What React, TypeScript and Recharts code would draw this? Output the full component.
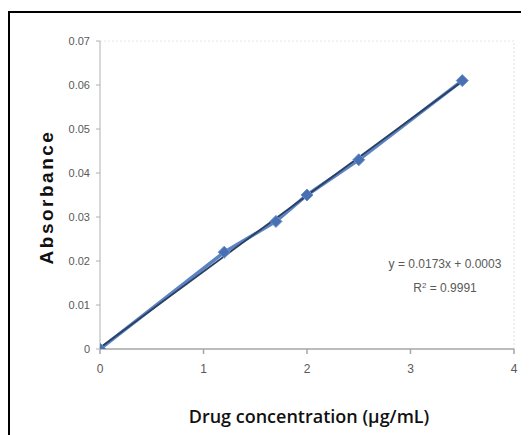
import React from "react";
import { LineChart, Line, XAxis, YAxis, ReferenceLine } from "recharts";

const concentrations = [0, 1.2, 1.7, 2, 2.5, 3.5];
const absorbances = [0, 0.022, 0.029, 0.035, 0.043, 0.061];
const xTicks = [0, 1, 2, 3, 4];
const yTicks = [0, 0.01, 0.02, 0.03, 0.04, 0.05, 0.06, 0.07];
const trendX = [0, 3.5];
const trendY = [0.0003, 0.06085];
const equationText = "y = 0.0173x + 0.0003";
const r2Value = "0.9991";

const data = concentrations.map((x, i) => ({ x, y: absorbances[i] }));

const NARROW = "'Liberation Sans Narrow', 'Liberation Sans', Arial, sans-serif";

const Diamond = (props: any) => {
  const { cx, cy } = props;
  if (cx == null || cy == null) return null;
  const r = 6;
  return (
    <path
      d={`M${cx},${cy - r} L${cx + r},${cy} L${cx},${cy + r} L${cx - r},${cy} Z`}
      fill="#4a70b4"
      stroke="#6a8fcc"
      strokeWidth={1}
    />
  );
};

const fmtY = (v: number) => (v === 0 ? "0" : v.toFixed(2));

export default function App() {
  return (
    <div style={{ position: "relative", width: 521, height: 427 }}>
      <div
        style={{
          position: "absolute",
          left: 0,
          top: 3,
          width: 521,
          height: 424,
          borderTop: "2px solid #000",
          borderLeft: "2px solid #000",
          boxSizing: "border-box",
        }}
      />
      <LineChart
        width={521}
        height={427}
        data={data}
        margin={{ top: 33, right: 15, left: 32, bottom: 56 }}
        style={{ position: "absolute", left: 0, top: 0 }}
      >
        <XAxis
          dataKey="x"
          type="number"
          domain={[0, 4]}
          ticks={xTicks}
          height={30}
          stroke="#a6a6a6"
          strokeWidth={1.5}
          tickSize={5}
          tickMargin={10}
          tick={{ fill: "#595959", fontSize: 12, fontFamily: NARROW }}
          allowDataOverflow
        />
        <YAxis
          type="number"
          domain={[0, 0.07]}
          ticks={yTicks}
          width={60}
          stroke="#b0b0b0"
          tickSize={4}
          tickMargin={6}
          tickFormatter={fmtY}
          tick={{ fill: "#595959", fontSize: 11, fontFamily: NARROW }}
          allowDataOverflow
        />
        <ReferenceLine y={0.07} stroke="#e6e6e6" strokeDasharray="2 2" />
        <ReferenceLine x={4} stroke="#e0e0e0" strokeDasharray="2 2" />
        <Line
          dataKey="y"
          stroke="#5b83c4"
          strokeWidth={3.5}
          dot={<Diamond />}
          activeDot={false}
          isAnimationActive={false}
        />
        <ReferenceLine
          segment={[
            { x: trendX[0], y: trendY[0] },
            { x: trendX[1], y: trendY[1] },
          ]}
          stroke="#2b3f5e"
          strokeWidth={1.8}
        />
      </LineChart>
      <svg
        width={521}
        height={427}
        style={{ position: "absolute", left: 0, top: 0, pointerEvents: "none" }}
      >
        <text
          x={437}
          y={260}
          textAnchor="middle"
          fill="#595959"
          fontSize={12}
          fontFamily={NARROW}
        >
          {equationText}
        </text>
        <text
          x={437}
          y={284}
          textAnchor="middle"
          fill="#595959"
          fontSize={12}
          fontFamily={NARROW}
        >
          R<tspan dy={-4} fontSize={8}>2</tspan>
          <tspan dy={4}> = {r2Value}</tspan>
        </text>
        <text
          x={301}
          y={415}
          textAnchor="middle"
          fill="#111"
          fontSize={18}
          fontWeight={600}
          fontFamily="'Open Sans', 'Liberation Sans', sans-serif"
        >
          Drug concentration (µg/mL)
        </text>
        <text
          transform="translate(45,189) rotate(-90)"
          textAnchor="middle"
          fill="#111"
          fontSize={19}
          fontWeight="bold"
          letterSpacing={2.5}
          fontFamily="'Liberation Sans', Arial, sans-serif"
        >
          Absorbance
        </text>
      </svg>
    </div>
  );
}
